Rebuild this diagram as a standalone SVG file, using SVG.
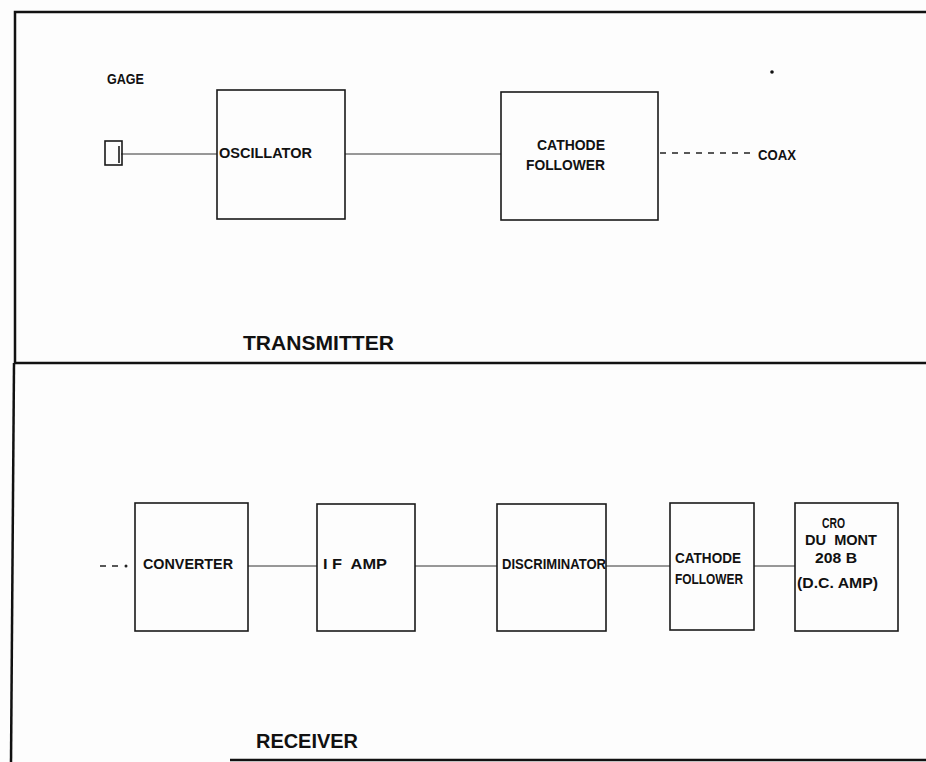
<svg xmlns="http://www.w3.org/2000/svg" width="926" height="762" viewBox="0 0 926 762">
<style>
.frame{fill:none;stroke:#111;stroke-width:2.5}
.box{fill:none;stroke:#1a1a1a;stroke-width:1.6}
.wire{fill:none;stroke:#333;stroke-width:1}
.dash{fill:none;stroke:#222;stroke-width:1.3;stroke-dasharray:6 6}
text{font-family:"Liberation Sans",Arial,sans-serif;font-weight:bold;fill:#111}
.lbl{font-size:14px}
.title{font-size:21px}
</style>
<rect width="926" height="762" fill="#fdfdfd"/>
<g id="frame">
<polyline class="frame" points="926,12 15,12 15,363 926,363"/>
<polyline class="frame" points="14,363 11,762"/>
<line class="frame" x1="230" y1="760" x2="926" y2="760"/>
</g>
<g id="connectors">
<line class="wire" x1="121" y1="154" x2="217" y2="154"/>
<line class="wire" x1="345" y1="154" x2="501" y2="154"/>
<line class="dash" x1="660" y1="153" x2="752" y2="153"/>
<line class="dash" x1="100" y1="566" x2="124" y2="566" stroke-dasharray="5 4"/>
<circle cx="126" cy="566" r="1.5" fill="#222"/>
<line class="wire" x1="248" y1="566" x2="317" y2="566"/>
<line class="wire" x1="415" y1="566" x2="497" y2="566"/>
<line class="wire" x1="606" y1="566" x2="670" y2="566"/>
<line class="wire" x1="754" y1="566" x2="795" y2="566"/>
</g>
<g id="gage">
<text class="lbl" x="107" y="84" textLength="37" lengthAdjust="spacingAndGlyphs">GAGE</text>
<rect class="box" x="105" y="141" width="17" height="24"/>
<line class="box" x1="119" y1="146" x2="119" y2="163"/>
</g>
<g id="oscillator">
<rect class="box" x="217" y="90" width="128" height="129"/>
<text class="lbl" x="219" y="158" textLength="93" lengthAdjust="spacingAndGlyphs">OSCILLATOR</text>
</g>
<g id="tx-cathode-follower">
<rect class="box" x="501" y="92" width="157" height="128"/>
<text class="lbl" x="537" y="150" textLength="68" lengthAdjust="spacingAndGlyphs">CATHODE</text>
<text class="lbl" x="526" y="170" textLength="79" lengthAdjust="spacingAndGlyphs">FOLLOWER</text>
</g>
<g id="coax">
<text class="lbl" x="758" y="160" textLength="38" lengthAdjust="spacingAndGlyphs">COAX</text>
</g>
<circle cx="772" cy="72" r="1.8" fill="#111"/>
<g id="transmitter-title">
<text class="title" x="243" y="350" textLength="151" lengthAdjust="spacingAndGlyphs">TRANSMITTER</text>
</g>
<g id="converter">
<rect class="box" x="135" y="503" width="113" height="128"/>
<text class="lbl" x="143" y="569" textLength="90" lengthAdjust="spacingAndGlyphs">CONVERTER</text>
</g>
<g id="if-amp">
<rect class="box" x="317" y="504" width="98" height="127"/>
<text class="lbl" x="323" y="569" textLength="64" lengthAdjust="spacingAndGlyphs" xml:space="preserve">I F  AMP</text>
</g>
<g id="discriminator">
<rect class="box" x="497" y="504" width="109" height="127"/>
<text class="lbl" x="502" y="569" textLength="104" lengthAdjust="spacingAndGlyphs">DISCRIMINATOR</text>
</g>
<g id="rx-cathode-follower">
<rect class="box" x="670" y="503" width="84" height="127"/>
<text class="lbl" x="675" y="563" textLength="66" lengthAdjust="spacingAndGlyphs">CATHODE</text>
<text class="lbl" x="675" y="584" textLength="68" lengthAdjust="spacingAndGlyphs">FOLLOWER</text>
</g>
<g id="cro">
<rect class="box" x="795" y="503" width="103" height="128"/>
<text class="lbl" x="822" y="528" textLength="23" lengthAdjust="spacingAndGlyphs">CRO</text>
<text class="lbl" x="805" y="545" textLength="72" lengthAdjust="spacingAndGlyphs" xml:space="preserve">DU  MONT</text>
<text class="lbl" x="815" y="563" textLength="42" lengthAdjust="spacingAndGlyphs">208 B</text>
<text class="lbl" x="797" y="588" textLength="81" lengthAdjust="spacingAndGlyphs">(D.C. AMP)</text>
</g>
<g id="receiver-title">
<text class="title" x="256" y="748" textLength="102" lengthAdjust="spacingAndGlyphs">RECEIVER</text>
</g>
</svg>
